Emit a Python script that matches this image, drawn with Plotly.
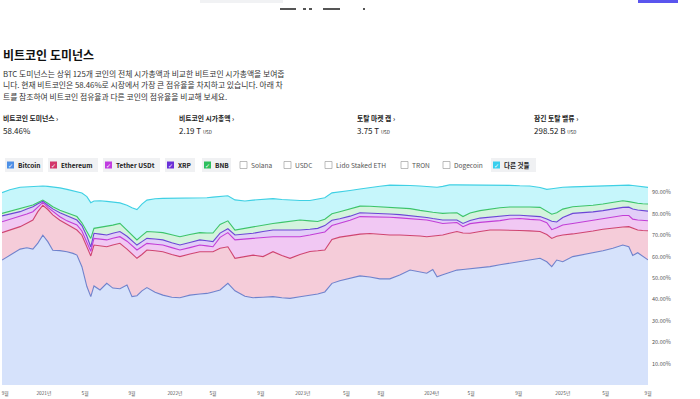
import plotly.graph_objects as go

# ---------------- data ----------------
dates = [
    "2020-09-10", "2020-10-02", "2020-10-31", "2020-11-19", "2020-12-06", "2020-12-20", "2021-01-03", "2021-01-17", "2021-01-31", "2021-02-20",
    "2021-03-12", "2021-03-29", "2021-04-09", "2021-04-23", "2021-05-07", "2021-05-18", "2021-05-27", "2021-06-13", "2021-07-02", "2021-07-19",
    "2021-08-08", "2021-08-28", "2021-09-11", "2021-09-25", "2021-10-09", "2021-10-23", "2021-11-15", "2021-12-07", "2022-01-01", "2022-01-24",
    "2022-02-21", "2022-03-21", "2022-04-10", "2022-04-27", "2022-05-17", "2022-06-08", "2022-06-28", "2022-07-26", "2022-08-18", "2022-09-15",
    "2022-10-13", "2022-11-07", "2022-11-30", "2022-12-28", "2023-01-25", "2023-02-16", "2023-03-08", "2023-03-28", "2023-04-19", "2023-05-18",
    "2023-06-15", "2023-07-13", "2023-08-10", "2023-09-07", "2023-10-05", "2023-11-03", "2023-12-01", "2023-12-20", "2024-01-06", "2024-01-18",
    "2024-02-03", "2024-02-22", "2024-03-14", "2024-03-31", "2024-04-20", "2024-05-18", "2024-06-15", "2024-07-13", "2024-08-10", "2024-09-07",
    "2024-10-05", "2024-11-03", "2024-11-22", "2024-12-06", "2024-12-20", "2025-01-06", "2025-02-03", "2025-03-04", "2025-04-01", "2025-04-29",
    "2025-05-27", "2025-06-24", "2025-07-11", "2025-07-22", "2025-08-05", "2025-08-19", "2025-09-03",
]

bitcoin = [
    58.4, 60.5, 63.5, 64.1, 63.5, 66.3, 70.0, 67.0, 63.0, 62.8,
    62.3, 61.5, 60.7, 55.3, 46.0, 41.3, 46.3, 44.4, 47.5, 45.3,
    45.0, 46.7, 41.3, 41.7, 44.0, 45.5, 43.3, 42.0, 41.0, 40.8,
    42.0, 42.5, 42.8, 43.5, 44.4, 47.5, 44.0, 41.5, 40.8, 41.0,
    41.3, 40.8, 40.5, 41.2, 42.0, 42.5, 43.5, 47.5, 48.7, 49.8,
    51.0, 50.5, 49.6, 49.6, 51.4, 53.7, 52.8, 52.2, 54.0, 50.6,
    51.5, 52.6, 53.7, 54.0, 54.3, 54.8, 55.3, 56.2, 57.0, 57.6,
    58.4, 59.2, 57.6, 55.3, 58.4, 57.6, 60.0, 60.9, 61.8, 62.7,
    63.9, 65.4, 64.6, 60.5, 61.8, 60.0, 58.46,
]
ethereum = [
    12.8, 11.9, 10.5, 11.5, 13.6, 14.7, 14.0, 15.0, 16.5, 14.2,
    12.9, 11.9, 11.7, 14.7, 19.0, 19.0, 19.1, 20.6, 17.1, 20.1,
    21.2, 16.8, 20.2, 17.5, 17.0, 17.6, 19.4, 20.3, 20.0, 19.2,
    19.2, 19.8, 19.5, 18.8, 19.5, 17.1, 15.2, 18.7, 19.9, 19.0,
    21.0, 19.7, 18.7, 19.8, 20.4, 20.2, 19.6, 20.5, 20.4, 20.0,
    19.5, 20.3, 20.8, 20.5, 18.7, 16.3, 16.8, 17.1, 15.5, 19.1,
    18.6, 18.3, 18.0, 17.0, 16.6, 16.9, 17.1, 16.2, 15.4, 14.6,
    13.6, 12.5, 12.7, 13.2, 11.1, 12.5, 10.6, 10.3, 10.2, 10.1,
    9.5, 8.4, 9.4, 12.8, 10.6, 12.2, 13.6,
]
tether = [
    5.1, 5.0, 4.7, 4.3, 3.9, 2.3, 1.3, 1.0, 1.5, 1.6,
    1.5, 2.2, 2.4, 2.0, 2.0, 2.2, 3.1, 3.2, 3.2, 3.2,
    3.1, 3.7, 3.8, 3.9, 3.6, 3.1, 3.1, 3.1, 3.2, 3.1,
    3.0, 3.1, 2.7, 2.3, 5.1, 6.6, 8.6, 8.0, 7.8, 8.9,
    7.0, 8.8, 10.1, 8.3, 7.7, 8.1, 8.4, 6.5, 6.4, 7.2,
    8.2, 7.9, 8.3, 8.3, 8.0, 7.8, 7.8, 7.8, 7.0, 6.3,
    5.4, 4.8, 4.2, 3.0, 4.5, 4.3, 3.9, 4.4, 5.2, 5.6,
    5.4, 5.4, 5.5, 4.1, 4.0, 4.7, 4.9, 5.0, 4.9, 4.8,
    5.0, 5.4, 5.2, 4.2, 4.7, 4.8, 4.7,
]
xrp = [
    2.7, 2.5, 2.3, 2.3, 2.3, 1.4, 0.6, 1.0, 1.3, 1.9,
    2.3, 2.3, 2.3, 2.5, 2.5, 2.0, 2.4, 2.3, 2.3, 2.3,
    2.4, 2.3, 2.3, 2.3, 2.4, 2.3, 2.4, 2.4, 2.3, 2.3,
    2.4, 2.4, 2.4, 2.4, 2.0, 1.8, 2.3, 2.3, 2.4, 2.8,
    3.1, 3.1, 3.1, 3.1, 2.7, 2.4, 3.0, 2.5, 2.2, 1.9,
    1.8, 1.7, 1.5, 1.5, 1.5, 1.4, 1.3, 1.2, 1.3, 1.4,
    1.6, 1.4, 1.2, 1.5, 1.5, 2.0, 2.2, 2.1, 1.7, 1.5,
    1.6, 1.6, 1.8, 3.9, 2.7, 3.5, 4.7, 4.3, 4.0, 3.9,
    3.9, 3.8, 3.9, 4.7, 4.7, 4.5, 4.5,
]
bnb = [
    1.2, 1.3, 1.6, 1.1, 0.8, 0.6, 0.5, 0.9, 1.0, 1.2,
    1.3, 1.5, 1.6, 1.3, 2.0, 4.0, 2.3, 3.1, 3.9, 3.8,
    3.8, 2.8, 2.7, 2.4, 2.8, 3.2, 3.3, 3.4, 3.7, 3.9,
    3.7, 3.4, 3.6, 4.0, 4.0, 3.7, 2.3, 2.8, 3.1, 3.1,
    3.1, 3.6, 4.1, 4.7, 3.9, 3.2, 3.0, 3.0, 3.3, 3.3,
    3.1, 3.1, 3.1, 3.1, 3.2, 3.2, 2.9, 2.7, 2.9, 3.1,
    3.1, 3.3, 3.4, 3.2, 3.5, 3.5, 3.8, 3.9, 3.9, 4.0,
    4.2, 4.3, 3.4, 3.3, 4.3, 3.9, 3.1, 3.1, 3.1, 3.1,
    3.1, 3.1, 2.6, 3.0, 3.1, 3.2, 3.3,
]
others = [
    9.7, 10.0, 9.8, 9.3, 8.7, 7.6, 6.6, 7.9, 9.3, 10.4,
    11.1, 11.4, 11.8, 13.9, 16.5, 16.7, 12.8, 12.5, 11.8, 10.8,
    9.6, 11.7, 12.5, 14.2, 14.7, 14.7, 15.5, 16.0, 17.0, 17.9,
    16.9, 16.0, 16.5, 16.8, 13.1, 11.7, 14.1, 12.7, 12.4, 12.0,
    11.6, 10.7, 9.9, 9.1, 9.5, 10.4, 10.0, 9.8, 9.4, 8.7,
    8.0, 8.9, 9.6, 10.4, 10.6, 10.8, 11.4, 11.8, 11.9, 11.9,
    12.6, 13.1, 13.0, 14.8, 13.1, 12.0, 11.2, 10.6, 10.1, 9.8,
    9.8, 9.3, 10.4, 11.9, 11.6, 10.2, 9.3, 9.2, 9.0, 8.5,
    7.9, 7.4, 7.7, 8.0, 8.1, 8.0, 7.8,
]

series_names = ["Bitcoin", "Ethereum", "Tether USDt", "XRP", "BNB", "다른 것들"]

x_tick_vals = ["2020-09-19", "2021-01-06", "2021-05-02", "2021-09-11", "2022-01-10", "2022-04-27",
               "2022-09-09", "2023-01-05", "2023-05-08", "2023-08-13", "2024-01-03", "2024-04-23",
               "2024-09-04", "2025-01-06", "2025-05-07", "2025-09-03"]
x_tick_text = ["9월", "2021년", "5월", "9월", "2022년", "5월", "9월", "2023년", "5월", "8월",
               "2024년", "5월", "9월", "2025년", "5월", "9월"]
y_tick_vals = [10, 20, 30, 40, 50, 60, 70, 80, 90]
y_tick_text = ["10.00%", "20.00%", "30.00%", "40.00%", "50.00%", "60.00%", "70.00%", "80.00%", "90.00%"]

legend_items = ["Bitcoin", "Ethereum", "Tether USDt", "XRP", "BNB", "Solana", "USDC",
                "Lido Staked ETH", "TRON", "Dogecoin", "다른 것들"]
legend_checked = [True, True, True, True, True, False, False, False, False, False, True]

stat_labels = ["비트코인 도미넌스 ›", "비트코인 시가총액 ›", "토탈 마켓 캡 ›", "잠긴 토탈 밸류 ›"]
stat_values = ["58.46%", "2.19 T", "3.75 T", "298.52 B"]
stat_units = ["", "USD", "USD", "USD"]

title_text = "비트코인 도미넌스"
desc_lines = [
    "BTC 도미넌스는 상위 125개 코인의 전체 시가총액과 비교한 비트코인 시가총액을 보여줍",
    "니다. 현재 비트코인은 58.46%로 시장에서 가장 큰 점유율을 차지하고 있습니다. 아래 차",
    "트를 참조하여 비트코인 점유율과 다른 코인의 점유율을 비교해 보세요.",
]

# ---------------- styles ----------------
FONT = "Noto Sans CJK KR"
line_colors = ["#6f82cc", "#cf4470", "#c23dd6", "#6c45d6", "#3cc46a", "#3fd0e4"]
fill_colors = ["#d6e2fb", "#f5ccd9", "#f1c8f3", "#e2cef8", "#d3f3dd", "#c6f6fb"]
check_colors = ["#4d8fe6", "#d2366a", "#c13ce0", "#6a30d8", "#2fbf5c", None, None, None, None, None, "#39cfee"]

W, H = 700, 399
PL, PR, PT, PB = 2, 648, 171, 385


def px(x):
    return (x - PL) / (PR - PL)


def py(y):
    return (PB - y) / (PB - PT)


fig = go.Figure()
for name, vals, lc, fc in zip(series_names, [bitcoin, ethereum, tether, xrp, bnb, others], line_colors, fill_colors):
    fig.add_trace(go.Scatter(
        x=dates, y=vals, name=name, mode="lines", stackgroup="one",
        line=dict(color=lc, width=1.1), fillcolor=fc, hoverinfo="skip",
    ))

annotations = []
shapes = []


def add_text(x, y, text, size, color="#222", bold=False, family=FONT):
    if bold:
        text = "<b>" + text + "</b>"
    annotations.append(dict(
        x=px(x), y=py(y), xref="paper", yref="paper", text=text, showarrow=False,
        xanchor="left", yanchor="middle", font=dict(size=size, color=color, family=family),
    ))


def add_rect(x0, y0, x1, y1, fill, line_color=None, line_width=0):
    shapes.append(dict(
        type="rect", xref="paper", yref="paper",
        x0=px(x0), x1=px(x1), y0=py(y1), y1=py(y0),
        fillcolor=fill, line=dict(color=line_color or fill, width=line_width), layer="above",
    ))


# partial header elements at the very top
add_rect(200, -6, 283, 3, "#f1f2f4")
add_rect(638, -6, 678, 3, "#5a55ee")
for x0, x1 in [(280, 296), (303, 306), (309, 312), (323, 340), (363, 365)]:
    add_rect(x0, 8, x1, 10, "#555555")

# title & description
add_text(1, 54, title_text, 12, "#111", bold=True)
for i, ln in enumerate(desc_lines):
    add_text(1, 73 + i * 11.5, ln, 7.8, "#333")

# stats row
stat_x = [2, 178, 356, 533]
for sx, lab, val, unit in zip(stat_x, stat_labels, stat_values, stat_units):
    add_text(sx - 1, 118, lab, 6.8, "#222", bold=True)
    t = val
    if unit:
        t += " <span style='font-size:4.5px'>" + unit + "</span>"
    add_text(sx - 1, 130, t, 8, "#222")

# custom legend (pills)
pill_ranges = [(5, 43), (48, 98), (103, 160), (165, 195), (202, 231), (238, 278), (282, 316),
               (323, 392), (399, 434), (441, 484), (491, 536)]
for (x0, x1), name, chk, cc in zip(pill_ranges, legend_items, legend_checked, check_colors):
    if chk:
        add_rect(x0, 158, x1, 172, "#f0f1f3")
        add_rect(x0 + 2, 161.5, x0 + 9, 168.5, cc)
        annotations.append(dict(
            x=px(x0 + 5.5), y=py(165), xref="paper", yref="paper", text="✓", showarrow=False,
            xanchor="center", yanchor="middle", font=dict(size=6, color="white", family="DejaVu Sans"),
        ))
        add_text(x0 + 10.5, 165, name, 6.5, "#222", bold=True)
    else:
        add_rect(x0 + 2, 161.5, x0 + 9, 168.5, "white", "#a0a0a0", 0.7)
        add_text(x0 + 10.5, 165, name, 6.6, "#555")

fig.update_layout(
    width=W, height=H,
    margin=dict(l=PL, r=W - PR, t=PT, b=H - PB, pad=0),
    paper_bgcolor="white", plot_bgcolor="white",
    showlegend=False,
    font=dict(family=FONT, color="#444"),
    annotations=annotations, shapes=shapes,
    xaxis=dict(
        type="date", range=[dates[0], dates[-1]], showgrid=False, zeroline=False, showline=False,
        tickmode="array", tickvals=x_tick_vals, ticktext=x_tick_text, ticks="",
        ticklabelstandoff=4,
        tickfont=dict(size=4.8, color="#555", family=FONT), automargin=False, fixedrange=True,
    ),
    yaxis=dict(
        range=[0, 100], side="right", showgrid=False, zeroline=False, showline=False,
        tickmode="array", tickvals=y_tick_vals, ticktext=y_tick_text, ticks="",
        ticklabelstandoff=3,
        tickfont=dict(size=5.5, color="#555", family=FONT), automargin=False, fixedrange=True,
    ),
)

fig.write_html(
    "out.html",
    config={"displayModeBar": False},
    post_script="document.body.style.margin='0';document.body.style.overflow='hidden';",
)
